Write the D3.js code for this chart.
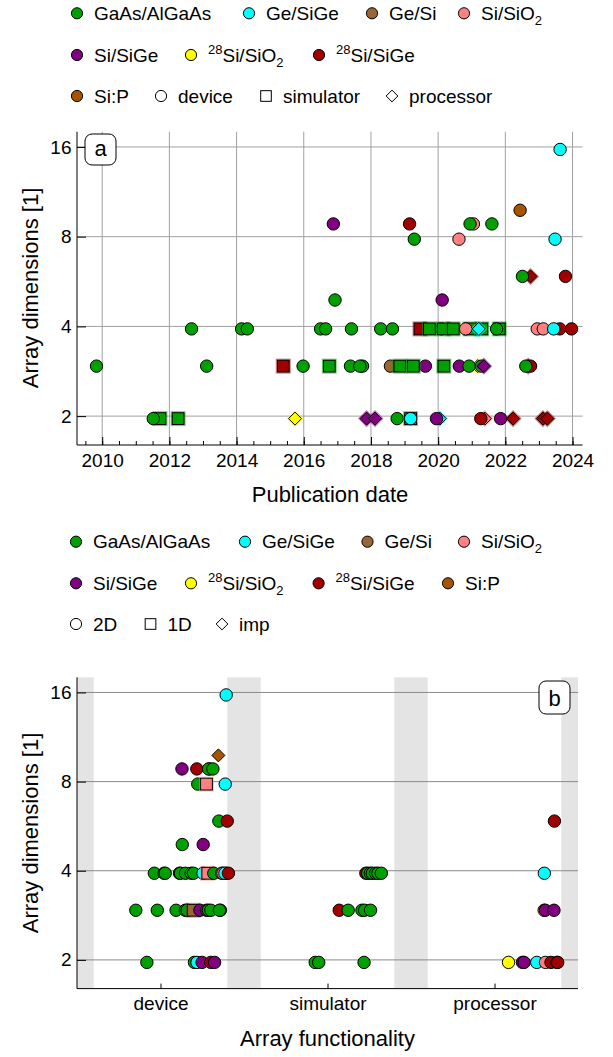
<!DOCTYPE html>
<html>
<head>
<meta charset="utf-8">
<script src="https://cdn.jsdelivr.net/npm/d3@7"></script>
<style>
body { margin: 0; background: #fff; }
svg { display: block; font-family: "Liberation Sans", Arial, sans-serif; }
</style>
</head>
<body>
<svg id="chart" width="613" height="1057"></svg>
<script>
// material platforms, in legend order
var materials = ["GaAs", "GeSiGe", "GeSi", "SiO2", "SiSiGe", "28SiO2", "28SiGe", "SiP"];
var matColors = ["#00a000", "#00ffff", "#996633", "#ff8080", "#800080", "#ffff00", "#a00000", "#a65400"];
// label pieces: [text, "n" | "sup" | "sub"]
var matLabels = [
    [["GaAs/AlGaAs", "n"]],
    [["Ge/SiGe", "n"]],
    [["Ge/Si", "n"]],
    [["Si/SiO", "n"], ["2", "sub"]],
    [["Si/SiGe", "n"]],
    [["28", "sup"], ["Si/SiO", "n"], ["2", "sub"]],
    [["28", "sup"], ["Si/SiGe", "n"]],
    [["Si:P", "n"]]
];
var functionality = ["device", "simulator", "processor"];
var geometries = ["2D", "1D", "imp"];

var yTicks = [2, 4, 8, 16];
var yearTicks = [2010, 2012, 2014, 2016, 2018, 2020, 2022, 2024];

// points per array dimension: [publication date, material, functionality, geometry]
// listed in drawing order (later ones sit on top)
var dim2 = [
    [2011.72, "GaAs", "simulator", "2D"],
    [2011.52, "GaAs", "device", "2D"],
    [2012.26, "GaAs", "simulator", "2D"],
    [2015.74, "28SiO2", "processor", "2D"],
    [2017.87, "SiSiGe", "processor", "2D"],
    [2018.12, "SiSiGe", "processor", "2D"],
    [2018.78, "GaAs", "device", "2D"],
    [2019.18, "GaAs", "simulator", "2D"],
    [2019.18, "GeSiGe", "device", "2D"],
    [2020.05, "GeSiGe", "processor", "2D"],
    [2019.95, "SiSiGe", "device", "2D"],
    [2021.39, "SiO2", "processor", "2D"],
    [2021.27, "28SiGe", "device", "2D"],
    [2021.86, "SiSiGe", "device", "2D"],
    [2022.23, "28SiGe", "processor", "2D"],
    [2023.12, "28SiGe", "processor", "2D"],
    [2023.25, "28SiGe", "processor", "2D"]
];
var dim3 = [
    [2009.83, "GaAs", "device", "2D"],
    [2013.11, "GaAs", "device", "2D"],
    [2015.39, "28SiGe", "simulator", "2D"],
    [2015.98, "GaAs", "device", "2D"],
    [2016.76, "GaAs", "simulator", "2D"],
    [2017.39, "GaAs", "device", "2D"],
    [2017.75, "GaAs", "device", "2D"],
    [2017.67, "GaAs", "device", "2D"],
    [2018.58, "GeSi", "device", "1D"],
    [2019.62, "SiSiGe", "device", "2D"],
    [2018.86, "GaAs", "simulator", "2D"],
    [2019.26, "GaAs", "simulator", "2D"],
    [2020.17, "GaAs", "simulator", "2D"],
    [2020.63, "SiSiGe", "device", "2D"],
    [2021.18, "28SiO2", "processor", "2D"],
    [2020.92, "GaAs", "device", "2D"],
    [2021.29, "GaAs", "device", "2D"],
    [2021.36, "SiSiGe", "processor", "2D"],
    [2022.68, "SiSiGe", "processor", "2D"],
    [2022.75, "28SiGe", "device", "2D"],
    [2022.61, "GaAs", "device", "2D"]
];
var dim4 = [
    [2012.66, "GaAs", "device", "2D"],
    [2014.15, "GaAs", "device", "2D"],
    [2014.32, "GaAs", "device", "2D"],
    [2016.50, "GaAs", "device", "2D"],
    [2016.65, "GaAs", "device", "2D"],
    [2017.42, "GaAs", "device", "2D"],
    [2018.29, "GaAs", "device", "2D"],
    [2018.64, "GaAs", "device", "2D"],
    [2020.10, "GeSiGe", "device", "2D"],
    [2019.46, "28SiGe", "simulator", "2D"],
    [2019.74, "GaAs", "simulator", "2D"],
    [2020.15, "GaAs", "simulator", "2D"],
    [2020.45, "GaAs", "simulator", "2D"],
    [2020.95, "GaAs", "simulator", "2D"],
    [2020.82, "SiO2", "device", "1D"],
    [2021.30, "GaAs", "simulator", "2D"],
    [2021.21, "GeSiGe", "processor", "2D"],
    [2021.82, "GaAs", "simulator", "2D"],
    [2021.74, "GaAs", "device", "2D"],
    [2022.95, "SiO2", "device", "2D"],
    [2023.13, "SiO2", "device", "2D"],
    [2023.62, "28SiGe", "device", "2D"],
    [2023.44, "GeSiGe", "device", "2D"],
    [2023.97, "28SiGe", "device", "2D"]
];
var dim5 = [
    [2016.93, "GaAs", "device", "2D"],
    [2020.12, "SiSiGe", "device", "2D"]
];
var dim6 = [
    [2022.75, "28SiGe", "processor", "2D"],
    [2022.51, "GaAs", "device", "2D"],
    [2023.79, "28SiGe", "device", "2D"]
];
var dim8 = [
    [2019.29, "GaAs", "device", "2D"],
    [2020.62, "SiO2", "device", "1D"],
    [2023.48, "GeSiGe", "device", "2D"]
];
var dim9 = [
    [2016.88, "SiSiGe", "device", "2D"],
    [2019.15, "28SiGe", "device", "2D"],
    [2021.05, "SiO2", "device", "2D"],
    [2020.95, "GaAs", "device", "2D"],
    [2021.60, "GaAs", "device", "2D"]
];
var dim10 = [
    [2022.44, "SiP", "device", "imp"]
];
var dim16 = [
    [2023.63, "GeSiGe", "device", "2D"]
];

var byDim = [[2, dim2], [3, dim3], [4, dim4], [5, dim5], [6, dim6], [8, dim8], [9, dim9], [10, dim10], [16, dim16]];
var data = [];
byDim.forEach(function(r) {
    r[1].forEach(function(p) {
        data.push({dim: r[0], date: p[0], mat: p[1], func: p[2], geom: p[3]});
    });
});

var color = d3.scaleOrdinal().domain(materials).range(matColors);

var svg = d3.select("#chart");
var font = "19px";

// marker helper: circle / square / diamond
function marker(g, shape, x, y, fill, opts) {
    opts = opts || {};
    var r = opts.r || 6.2;
    var sw = opts.sw || 1;
    if (shape == "circle") {
        g.append("circle").attr("cx", x).attr("cy", y).attr("r", r)
            .attr("fill", fill).attr("stroke", "#000").attr("stroke-width", sw);
    } else if (shape == "square") {
        var s = r * 0.95;
        if (opts.halo) g.append("rect").attr("x", x - s - 1.6).attr("y", y - s - 1.6)
            .attr("width", 2 * s + 3.2).attr("height", 2 * s + 3.2)
            .attr("fill", fill).attr("opacity", 0.5);
        g.append("rect").attr("x", x - s).attr("y", y - s).attr("width", 2 * s).attr("height", 2 * s)
            .attr("fill", fill).attr("stroke", "#000").attr("stroke-width", sw);
    } else {
        var h = r * 1.05;
        if (opts.halo) g.append("path")
            .attr("d", "M" + x + "," + (y - h - 2) + "L" + (x + h + 2) + "," + y + "L" + x + "," + (y + h + 2) + "L" + (x - h - 2) + "," + y + "Z")
            .attr("fill", fill).attr("opacity", 0.55);
        g.append("path")
            .attr("d", "M" + x + "," + (y - h) + "L" + (x + h) + "," + y + "L" + x + "," + (y + h) + "L" + (x - h) + "," + y + "Z")
            .attr("fill", fill).attr("stroke", "#000").attr("stroke-width", sw);
    }
}

function richText(g, x, y, parts) {
    var t = g.append("text").attr("x", x).attr("y", y).style("font-size", font).attr("fill", "#000");
    var shift = 0;
    parts.forEach(function(p) {
        var sp = t.append("tspan").text(p[0]);
        var target = p[1] == "sup" ? -8 : (p[1] == "sub" ? 5 : 0);
        sp.attr("dy", target - shift);
        shift = target;
        if (p[1] != "n") sp.style("font-size", "13px");
    });
}

function legendRow(y, items) {
    var g = svg.append("g");
    items.forEach(function(it) {
        if (it.mat) {
            marker(g, "circle", it.x, y, color(it.mat), {r: 5.6});
            richText(g, it.x + 17, y + 6.5, matLabels[materials.indexOf(it.mat)]);
        } else {
            marker(g, it.shape, it.x, y, "#fff", {r: 5.6});
            richText(g, it.x + 17, y + 6.5, [[it.label, "n"]]);
        }
    });
}

// ---------------- panel a ----------------
var xA = d3.scaleLinear().domain([2009.25, 2024.3]).range([77, 582.6]);
var yA = d3.scaleLog().base(2).domain([1.6, 18]).range([445, 131.7]);

legendRow(13.3, [{x: 77, mat: "GaAs"}, {x: 249, mat: "GeSiGe"}, {x: 372, mat: "GeSi"}, {x: 464, mat: "SiO2"}]);
legendRow(55, [{x: 77, mat: "SiSiGe"}, {x: 191, mat: "28SiO2"}, {x: 319, mat: "28SiGe"}]);
legendRow(96, [{x: 77, mat: "SiP"}, {x: 161, shape: "circle", label: functionality[0]},
    {x: 266, shape: "square", label: functionality[1]}, {x: 392, shape: "diamond", label: functionality[2]}]);

var gA = svg.append("g");
gA.selectAll(".vgrid").data(yearTicks).enter().append("line")
    .attr("x1", function(d) { return xA(d); }).attr("x2", function(d) { return xA(d); })
    .attr("y1", yA.range()[1]).attr("y2", yA.range()[0])
    .attr("stroke", "#a0a0a0").attr("stroke-width", 1);
gA.selectAll(".hgrid").data(yTicks).enter().append("line")
    .attr("x1", xA.range()[0]).attr("x2", xA.range()[1])
    .attr("y1", function(d) { return yA(d); }).attr("y2", function(d) { return yA(d); })
    .attr("stroke", "#a0a0a0").attr("stroke-width", 1);

// minor ticks every half year
gA.append("g").attr("transform", "translate(0,445)")
    .call(d3.axisBottom(xA).tickValues(d3.range(2009.5, 2024.01, 0.5)).tickSize(-4).tickFormat(""))
    .call(function(g) { g.select(".domain").remove(); });
var axA = gA.append("g").attr("transform", "translate(0,445)")
    .call(d3.axisBottom(xA).tickValues(yearTicks).tickSizeInner(-8).tickSizeOuter(0).tickPadding(8.5).tickFormat(d3.format("d")));
var ayA = gA.append("g").attr("transform", "translate(77,0)")
    .call(d3.axisLeft(yA).tickValues(yTicks).tickSizeInner(-9).tickSizeOuter(0).tickPadding(5.5).tickFormat(d3.format("d")));
[axA, ayA].forEach(function(a) {
    a.selectAll("text").style("font-size", font).style("font-family", "Liberation Sans, Arial, sans-serif").attr("fill", "#000");
    a.select(".domain").attr("stroke", "#000");
});
axA.select(".domain").attr("d", "M77,0H582.6");
ayA.select(".domain").attr("d", "M0,131.7V445");

var shapeA = {device: "circle", simulator: "square", processor: "diamond"};
var ptsA = gA.append("g").attr("transform", "translate(0,2.5)");
data.forEach(function(d) {
    marker(ptsA, shapeA[d.func], xA(d.date), yA(d.dim), color(d.mat), {halo: true});
});

gA.append("rect").attr("x", 85).attr("y", 134).attr("width", 31).attr("height", 31).attr("rx", 7)
    .attr("fill", "#fff").attr("stroke", "#000");
gA.append("text").attr("x", 100.5).attr("y", 155.5).attr("text-anchor", "middle").style("font-size", "22px").text("a");

gA.append("text").attr("x", 330).attr("y", 502).attr("text-anchor", "middle").style("font-size", "22px").text("Publication date");
gA.append("text").attr("transform", "translate(38,288) rotate(-90)").attr("text-anchor", "middle")
    .style("font-size", "22px").text("Array dimensions [1]");

// ---------------- panel b ----------------
var xB = d3.scaleLinear().domain([0.5, 3.5]).range([77, 578]);
var yB = d3.scaleLog().base(2).domain([1.6, 18]).range([988.6, 677.3]);

legendRow(541.7, [{x: 76, mat: "GaAs"}, {x: 245, mat: "GeSiGe"}, {x: 367.5, mat: "GeSi"}, {x: 464, mat: "SiO2"}]);
legendRow(583.3, [{x: 76, mat: "SiSiGe"}, {x: 191, mat: "28SiO2"}, {x: 318.6, mat: "28SiGe"}, {x: 448, mat: "SiP"}]);
legendRow(624, [{x: 76, shape: "circle", label: geometries[0]}, {x: 150.5, shape: "square", label: geometries[1]},
    {x: 222, shape: "diamond", label: geometries[2]}]);

var gB = svg.append("g");
var bands = [[0.5, 0.6], [1.4, 1.6], [2.4, 2.6], [3.4, 3.5]];
gB.selectAll(".band").data(bands).enter().append("rect")
    .attr("x", function(d) { return xB(d[0]); })
    .attr("width", function(d) { return xB(d[1]) - xB(d[0]); })
    .attr("y", yB.range()[1]).attr("height", yB.range()[0] - yB.range()[1])
    .attr("fill", "#e4e4e4");
gB.selectAll(".hgrid").data(yTicks).enter().append("line")
    .attr("x1", xB.range()[0]).attr("x2", xB.range()[1])
    .attr("y1", function(d) { return yB(d); }).attr("y2", function(d) { return yB(d); })
    .attr("stroke", "#8a8a8a").attr("stroke-width", 1);

var axB = gB.append("g").attr("transform", "translate(0,988.6)")
    .call(d3.axisBottom(xB).tickValues([1, 2, 3]).tickSizeInner(-5).tickSizeOuter(0).tickPadding(8)
        .tickFormat(function(d) { return functionality[d - 1]; }));
var ayB = gB.append("g").attr("transform", "translate(77,0)")
    .call(d3.axisLeft(yB).tickValues(yTicks).tickSizeInner(-9).tickSizeOuter(0).tickPadding(5.5).tickFormat(d3.format("d")));
[axB, ayB].forEach(function(a) {
    a.selectAll("text").style("font-size", font).style("font-family", "Liberation Sans, Arial, sans-serif").attr("fill", "#000");
    a.select(".domain").attr("stroke", "#000");
});
axB.select(".domain").attr("d", "M77,0H578");
ayB.select(".domain").attr("d", "M0,677.3V988.6");

// within each functionality column, points are spread by publication date
var shapeB = {"2D": "circle", "1D": "square", "imp": "diamond"};
var ptsB = gB.append("g").attr("transform", "translate(0,2.5)");
data.forEach(function(d) {
    var xv = functionality.indexOf(d.func) + 1 + (d.date - 2013.6) / 25.5;
    marker(ptsB, shapeB[d.geom], xB(xv), yB(d.dim), color(d.mat), {halo: d.geom == "1D"});
});

gB.append("rect").attr("x", 539).attr("y", 681).attr("width", 31).attr("height", 33).attr("rx", 7)
    .attr("fill", "#fff").attr("stroke", "#000");
gB.append("text").attr("x", 554.5).attr("y", 706).attr("text-anchor", "middle").style("font-size", "22px").text("b");

gB.append("text").attr("x", 327.5).attr("y", 1046).attr("text-anchor", "middle").style("font-size", "22px").text("Array functionality");
gB.append("text").attr("transform", "translate(38,833) rotate(-90)").attr("text-anchor", "middle")
    .style("font-size", "22px").text("Array dimensions [1]");
</script>
</body>
</html>
